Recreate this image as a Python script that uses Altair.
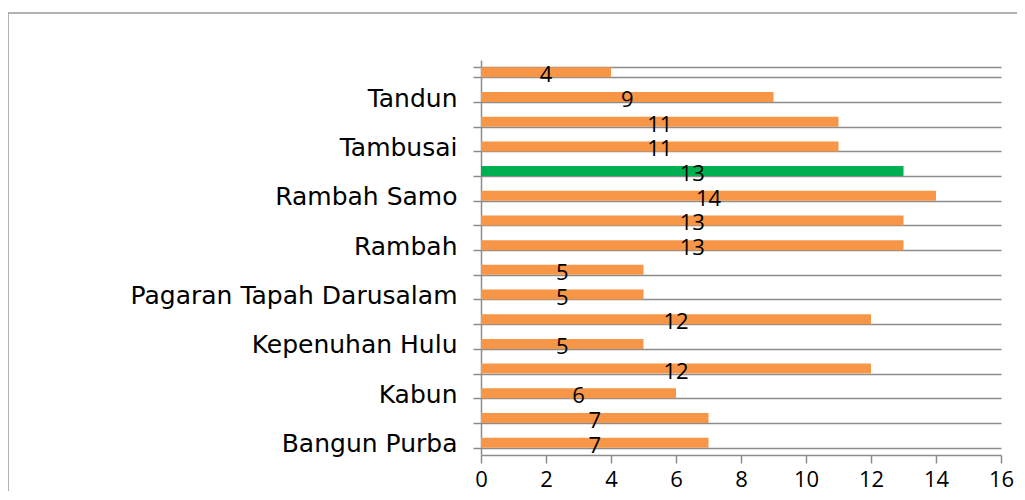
import altair as alt
import pandas as pd

categories = ["Bangun Purba", "Bonai Darussalam", "Kabun", "Kepenuhan", "Kepenuhan Hulu",
              "Kunto Darussalam", "Pagaran Tapah Darusalam", "Pendalian IV Koto", "Rambah",
              "Rambah Hilir", "Rambah Samo", "Rokan IV Koto", "Tambusai", "Tambusai Utara",
              "Tandun", "Ujung Batu"]
values = [7, 7, 6, 12, 5, 12, 5, 5, 13, 13, 14, 13, 11, 11, 9, 4]
highlight = "Rokan IV Koto"
shown_labels = ["Bangun Purba", "Kabun", "Kepenuhan Hulu", "Pagaran Tapah Darusalam",
                "Rambah", "Rambah Samo", "Tambusai", "Tandun"]
x_ticks = [0, 2, 4, 6, 8, 10, 12, 14, 16]

df = pd.DataFrame({
    "cat": categories,
    "val": values,
    "grp": ["hl" if c == highlight else "n" for c in categories],
})

GRID = "#8c8c8c"
label_expr = "indexof([" + ",".join("'" + s + "'" for s in shown_labels) + "], datum.value) >= 0 ? datum.value : ''"

y_enc = alt.Y("cat:N", sort=list(reversed(categories)), title=None,
              scale=alt.Scale(paddingInner=0.6, paddingOuter=0.3),
              axis=alt.Axis(tickBand="extent", grid=True, gridColor=GRID, gridWidth=1.5,
                            tickColor=GRID, tickWidth=1.5, tickSize=8, domainColor=GRID,
                            domainWidth=1.5, labelExpr=label_expr, labelFont="DejaVu Sans",
                            labelFontSize=25, labelColor="#000000", labelPadding=16,
                            labelLimit=500, labelBaseline="middle", labelOffset=1))

x_enc = alt.X("val:Q", title=None, scale=alt.Scale(domain=[0, 16]),
              axis=alt.Axis(values=x_ticks, grid=False, tickColor=GRID, tickWidth=1.5,
                            tickSize=8, domainColor=GRID, domainWidth=1.5,
                            labelFont="Open Sans", labelFontSize=22, labelColor="#000000",
                            labelPadding=6, labelFlush=False))

bars = alt.Chart(df).mark_bar(size=10).encode(
    y=y_enc,
    x=x_enc,
    color=alt.Color("grp:N", scale=alt.Scale(domain=["n", "hl"], range=["#F79646", "#00B050"]),
                    legend=None),
)

texts = alt.Chart(df).transform_calculate(half="datum.val / 2").mark_text(
    font="Open Sans", fontSize=22, color="#000000", baseline="middle", dy=3
).encode(
    y=y_enc,
    x=alt.X("half:Q"),
    text=alt.Text("val:Q"),
)

border = alt.Chart(alt.Data(values=[{"a": 1}])).mark_rect(
    fillOpacity=0, stroke="#9a9a9a", strokeWidth=1.5
).encode(
    x=alt.value(-473), x2=alt.value(700), y=alt.value(-47), y2=alt.value(600)
)

chart = alt.layer(border, bars, texts).properties(
    width=520, height=395,
    autosize=alt.AutoSizeParams(type="none"),
    padding={"left": 473, "top": 52, "right": 16, "bottom": 36},
).configure_view(stroke=None)

chart.save("out.html", embed_options={"renderer": "svg", "actions": False})
